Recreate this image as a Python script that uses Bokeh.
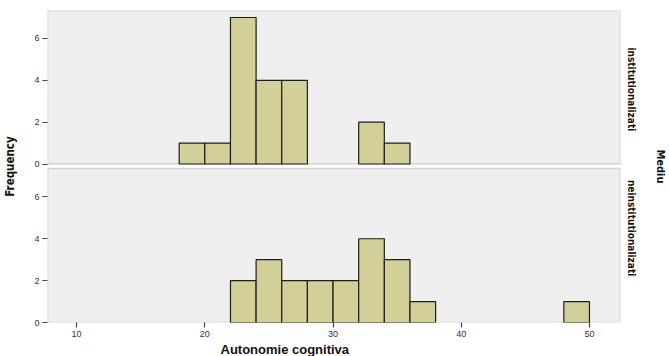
import math
from bokeh.plotting import figure
from bokeh.models import (Range1d, FixedTicker, BoxAnnotation, CustomJSTickFormatter,
                          ColumnDataSource, LinearAxis, Title)
from bokeh.embed import file_html
from bokeh.resources import INLINE

# Data (bin width 2)
bin_left_inst = [18, 20, 22, 24, 26, 32, 34]
count_inst = [1, 1, 7, 4, 4, 2, 1]
bin_left_neinst = [22, 24, 26, 28, 30, 32, 34, 36, 48]
count_neinst = [2, 3, 2, 2, 2, 4, 3, 1, 1]
bin_width = 2
x_ticks = [10, 20, 30, 40, 50]
y_ticks = [0, 2, 4, 6]
panel_labels = ["institutionalizati", "neinstitutionalizati"]
x_title = "Autonomie cognitiva"
y_title = "Frequency"
strip_title = "Mediu"

X0, X1 = 7.73, 52.42
PANEL_TOP = 7.36          # upper limit of each panel (counts)
OFF = 7.571               # offset of upper panel base
Y1 = OFF + 7.334

p = figure(width=669, height=356, output_backend="svg", toolbar_location=None,
           x_range=Range1d(X0, X1), y_range=Range1d(0, Y1),
           min_border_left=47, min_border_right=48, min_border_top=10, min_border_bottom=33)
p.outline_line_color = None
p.background_fill_color = "white"
p.border_fill_color = "white"
p.grid.visible = False

# panels
for bot, top in [(0, PANEL_TOP), (OFF, Y1)]:
    p.add_layout(BoxAnnotation(left=X0, right=X1, bottom=bot, top=top,
                               fill_color="#efefef", fill_alpha=1,
                               line_color="#858585", line_width=1.6, level="underlay"))

bar_fill = "#d3cf98"
src_top = ColumnDataSource(dict(left=bin_left_inst,
                                right=[b + bin_width for b in bin_left_inst],
                                bottom=[OFF] * len(count_inst),
                                top=[OFF + c for c in count_inst]))
src_bot = ColumnDataSource(dict(left=bin_left_neinst,
                                right=[b + bin_width for b in bin_left_neinst],
                                bottom=[0] * len(count_neinst),
                                top=count_neinst))
for s in (src_top, src_bot):
    p.quad(left="left", right="right", bottom="bottom", top="top", source=s,
           fill_color=bar_fill, line_color="#1e1e1e", line_width=1.2)

narrow = "DejaVu Sans Condensed, Liberation Sans, sans-serif"

# axes
p.xaxis.ticker = FixedTicker(ticks=x_ticks)
p.yaxis.ticker = FixedTicker(ticks=y_ticks + [OFF + t for t in y_ticks])
p.yaxis.formatter = CustomJSTickFormatter(args=dict(off=OFF),
    code="return String(Math.round(tick >= off - 0.01 ? tick - off : tick));")
for ax in (p.xaxis[0], p.yaxis[0]):
    ax.axis_line_color = None
    ax.major_tick_line_color = "#444444"
    ax.major_tick_line_width = 1.2
    ax.major_tick_out = 5
    ax.major_tick_in = 0
    ax.minor_tick_line_color = None
    ax.major_label_text_font = "Liberation Sans"
    ax.major_label_text_font_size = "9px"
    ax.major_label_text_color = "#333333"
p.xaxis.major_label_standoff = 3
p.yaxis.major_label_standoff = 3

p.yaxis.axis_label = y_title
p.yaxis.axis_label_text_font = narrow
p.yaxis.axis_label_text_font_style = "bold"
p.yaxis.axis_label_text_font_size = "11.5px"
p.yaxis.axis_label_text_color = "#111111"
p.yaxis.axis_label_standoff = 14

# strip labels via a right-hand axis (ticks placed at the start of each label)
strip_axis = LinearAxis(ticker=FixedTicker(ticks=[6.81, 13.14]),
                        formatter=CustomJSTickFormatter(args=dict(names=panel_labels, off=OFF),
                            code="return tick > off ? names[0] : names[1];"))
strip_axis.axis_line_color = None
strip_axis.major_tick_line_color = None
strip_axis.minor_tick_line_color = None
strip_axis.major_tick_out = 0
strip_axis.major_tick_in = 0
strip_axis.major_label_orientation = -math.pi / 2
strip_axis.major_label_standoff = 11
strip_axis.major_label_text_font = narrow
strip_axis.major_label_text_font_style = "bold"
strip_axis.major_label_text_font_size = "10px"
strip_axis.major_label_text_color = "#111111"
strip_axis.axis_label = strip_title
strip_axis.axis_label_standoff = 8
strip_axis.axis_label_text_font = narrow
strip_axis.axis_label_text_font_style = "bold"
strip_axis.axis_label_text_font_size = "11px"
strip_axis.axis_label_text_color = "#111111"
p.add_layout(strip_axis, "right")

t = Title(text=x_title, align="left", offset=173, standoff=0,
          text_font="Liberation Sans", text_font_style="bold", text_font_size="13px",
          text_color="#111111")
p.add_layout(t, "below")

open("out.html", "w").write(file_html(p, INLINE))
